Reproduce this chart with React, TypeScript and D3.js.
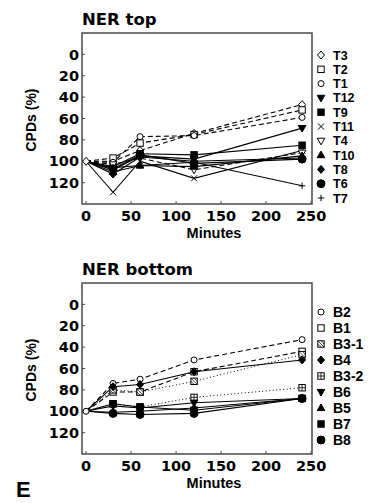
import React from "react";
import * as d3 from "d3";

// sampling times (minutes)
const MINUTES = [0, 30, 60, 120, 240];
const X_TICKS = [0, 50, 100, 150, 200, 250];
const Y_TICKS = [0, 20, 40, 60, 80, 100, 120];

// NER top
const TOP_NAMES = ["T3", "T2", "T1", "T12", "T9", "T11", "T4", "T10", "T8", "T6", "T7"];
const TOP_SHAPES = ["diamondOpen", "squareOpen", "circleOpen", "triDown", "square", "x", "triDownOpen", "triUp", "diamond", "circle", "plus"];
const TOP_DASH = ["dash", "dash", "dash", "solid", "solid", "solid", "dash", "solid", "solid", "solid", "solid"];
const TOP_VALUES = [
  [100, 100, 90, 74, 47],
  [100, 97, 83, 75, 52],
  [100, 101, 77, 76, 59],
  [100, 108, 95, 98, 69],
  [100, 105, 93, 94, 85],
  [100, 129, 100, 116, 90],
  [100, 103, 97, 108, 92],
  [100, 110, 104, 105, 95],
  [100, 112, 96, 100, 97],
  [100, 107, 94, 102, 98],
  [100, 106, 104, 101, 123],
];

// NER bottom
const BOT_NAMES = ["B2", "B1", "B3-1", "B4", "B3-2", "B6", "B5", "B7", "B8"];
const BOT_SHAPES = ["circleOpen", "squareOpen", "squareSlash", "diamond", "squarePlus", "triDown", "triUp", "square", "circle"];
const BOT_DASH = ["dash", "dash", "dot", "solid", "dot", "solid", "solid", "solid", "solid"];
const BOT_VALUES = [
  [100, 74, 70, 52, 33],
  [100, 82, 82, 63, 44],
  [100, 80, 82, 72, 47],
  [100, 77, 75, 63, 52],
  [100, 93, 96, 87, 78],
  [100, 95, 97, 92, 88],
  [100, 101, 100, 97, 88],
  [100, 93, 96, 99, 88],
  [100, 102, 103, 102, 88],
];

const DIGITS = "'DejaVu Sans', sans-serif";
const ARIAL = "'Liberation Sans', Arial, sans-serif";

const dashOf = (d: string) => (d === "dash" ? "5,3" : d === "dot" ? "1,2.5" : undefined);

// marker drawn around (0,0)
const Marker = ({ shape }: { shape: string }) => {
  const s = 3.2;
  const open = shape.endsWith("Open") || shape === "squareSlash" || shape === "squarePlus";
  const fill = open ? "#fff" : "#000";
  const common = { fill, stroke: "#000", strokeWidth: 1 };
  if (shape.startsWith("circle")) return <circle r={open ? 3 : 4} {...common} />;
  if (shape.startsWith("diamond"))
    return <path d={`M0,${-s - 0.8}L${s + 0.3},0L0,${s + 0.8}L${-s - 0.3},0Z`} {...common} />;
  if (shape.startsWith("triDown"))
    return <path d={`M${-s - 0.6},${-s + 0.6}L${s + 0.6},${-s + 0.6}L0,${s + 0.8}Z`} {...common} />;
  if (shape === "triUp")
    return <path d={`M${-s - 0.6},${s - 0.6}L${s + 0.6},${s - 0.6}L0,${-s - 0.8}Z`} {...common} />;
  if (shape === "x") return <path d={`M-3,-3L3,3M-3,3L3,-3`} stroke="#000" strokeWidth={1} />;
  if (shape === "plus") return <path d={`M-3.2,0L3.2,0M0,-3.2L0,3.2`} stroke="#000" strokeWidth={1} />;
  if (shape === "squareSlash")
    return (
      <g>
        <rect x={-s} y={-s} width={2 * s} height={2 * s} {...common} />
        <path d={`M${-s},${-s}L${s},${s}M${-s},0L0,${s}M0,${-s}L${s},0`} stroke="#000" strokeWidth={0.7} />
      </g>
    );
  if (shape === "squarePlus")
    return (
      <g>
        <rect x={-s} y={-s} width={2 * s} height={2 * s} {...common} />
        <path d={`M${-s},0L${s},0M0,${-s}L0,${s}`} stroke="#000" strokeWidth={0.8} />
      </g>
    );
  return <rect x={-s} y={-s} width={2 * s} height={2 * s} {...common} />;
};

type PanelProps = {
  title: string;
  top: number;
  names: string[];
  shapes: string[];
  dashes: string[];
  values: number[][];
  legendY0: number;
  legendStep: number;
};

const Panel = ({ title, top, names, shapes, dashes, values, legendY0, legendStep }: PanelProps) => {
  const left = 82;
  const right = 312;
  const boxTop = top + 33;
  const boxBottom = top + 204;

  const x = d3.scaleLinear().domain([-4.5, 251]).range([left, right]);
  const y = d3.scaleLinear().domain([-20, 140]).range([boxTop, boxBottom]);

  const line = d3
    .line<number>()
    .x((_, i) => x(MINUTES[i]))
    .y((d) => y(d));

  // legend font kept small enough that rows do not collide
  const legendFont = Math.min(15.5, legendStep / 1.14);

  return (
    <g>
      <text x={left} y={top + 25} fontFamily={DIGITS} fontWeight="bold" fontSize={16.5}>
        {title}
      </text>
      <rect x={left} y={boxTop} width={right - left} height={boxBottom - boxTop} fill="none" stroke="#4a4a4a" strokeWidth={1.5} />

      {Y_TICKS.map((t) => (
        <g key={"y" + t}>
          <line x1={left} x2={left + 3} y1={y(t)} y2={y(t)} stroke="#4a4a4a" />
          <text x={left - 3} y={y(t)} dy="0.36em" textAnchor="end" fontFamily={DIGITS} fontWeight="bold" fontSize={14.5}>
            {t}
          </text>
        </g>
      ))}
      {X_TICKS.map((t) => (
        <g key={"x" + t}>
          <line x1={x(t)} x2={x(t)} y1={boxBottom} y2={boxBottom - 3} stroke="#4a4a4a" />
          <text x={x(t)} y={boxBottom + 17} textAnchor="middle" fontFamily={DIGITS} fontWeight="bold" fontSize={14.5}>
            {t}
          </text>
        </g>
      ))}
      <text x={214} y={boxBottom + 34} textAnchor="middle" fontFamily={ARIAL} fontWeight="bold" fontSize={14.5}>
        Minutes
      </text>
      <text
        transform={`translate(36,${top + 120}) rotate(-90)`}
        textAnchor="middle"
        fontFamily={ARIAL}
        fontWeight="bold"
        fontSize={14}
      >
        CPDs (%)
      </text>

      {values.map((vals, i) => (
        <path
          key={"l" + i}
          d={line(vals) || ""}
          fill="none"
          stroke="#000"
          strokeWidth={dashes[i] === "dot" ? 1 : 1.1}
          strokeDasharray={dashOf(dashes[i])}
        />
      ))}
      {values.map((vals, i) =>
        vals.map((v, j) =>
          j === 0 && i > 0 ? null : (
            <g key={`m${i}-${j}`} transform={`translate(${x(MINUTES[j])},${y(v)})`}>
              <Marker shape={shapes[i]} />
            </g>
          )
        )
      )}

      {names.map((n, i) => (
        <g key={"lg" + n} transform={`translate(321,${top + legendY0 + i * legendStep})`}>
          <Marker shape={shapes[i]} />
          <text x={12} dy="0.36em" fontFamily={ARIAL} fontWeight="bold" fontSize={legendFont}>
            {n}
          </text>
        </g>
      ))}
    </g>
  );
};

export default function App() {
  return (
    <svg width={383} height={503} style={{ position: "absolute", left: 0, top: 0, background: "#fff" }}>
      <rect width={383} height={503} fill="#fff" />
      <Panel
        title="NER top"
        top={0}
        names={TOP_NAMES}
        shapes={TOP_SHAPES}
        dashes={TOP_DASH}
        values={TOP_VALUES}
        legendY0={55}
        legendStep={14.3}
      />
      <Panel
        title="NER bottom"
        top={250}
        names={BOT_NAMES}
        shapes={BOT_SHAPES}
        dashes={BOT_DASH}
        values={BOT_VALUES}
        legendY0={62}
        legendStep={16}
      />
      <text x={16} y={497} fontFamily={ARIAL} fontWeight="bold" fontSize={22}>
        E
      </text>
    </svg>
  );
}
